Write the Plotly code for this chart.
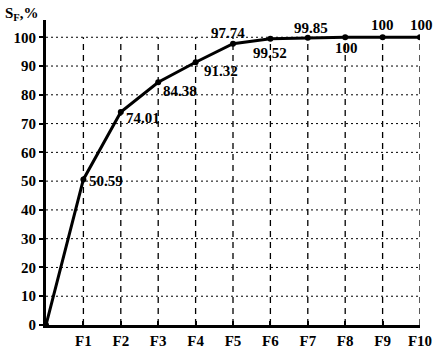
import plotly.graph_objects as go

categories = ["", "F1", "F2", "F3", "F4", "F5", "F6", "F7", "F8", "F9", "F10"]
values = [0, 50.59, 74.01, 84.38, 91.32, 97.74, 99.52, 99.85, 100, 100, 100]
value_labels = ["", "50.59", "74.01", "84.38", "91.32", "97.74", "99.52", "99.85", "100", "100", "100"]
y_ticks = [0, 10, 20, 30, 40, 50, 60, 70, 80, 90, 100]

# label placement style: (xanchor, yanchor, xshift, yshift)
label_pos = [
    None,
    ("left", "middle", 4, -2),
    ("left", "middle", 3, -6),
    ("left", "middle", 3, -9),
    ("left", "middle", 6, -9),
    ("center", "middle", -5, 11),
    ("center", "middle", 0, -14),
    ("center", "middle", 3, 10),
    ("center", "middle", 1, -11),
    ("center", "middle", 0, 12),
    ("center", "middle", 1, 12),
]

FONT = "Liberation Serif, Times New Roman, serif"
FS = 15
xs = list(range(len(categories)))

fig = go.Figure()
fig.add_trace(go.Scatter(
    x=xs, y=values, mode="lines+markers",
    line=dict(color="black", width=3),
    marker=dict(color="black", size=6),
    showlegend=False, hoverinfo="skip",
))

shapes = []
for i in xs[1:]:
    shapes.append(dict(type="line", xref="x", yref="y", x0=i, x1=i, y0=0, y1=100,
                       line=dict(color="black", width=1.3, dash="6px,5px"), layer="below"))
for v in y_ticks[1:]:
    shapes.append(dict(type="line", xref="x", yref="y", x0=0, x1=10, y0=v, y1=v,
                       line=dict(color="black", width=1, dash="2px,3px"), layer="below"))

annotations = []
for i in xs[1:]:
    xa, ya, dx, dy = label_pos[i]
    annotations.append(dict(x=i, y=values[i], text="<b>" + value_labels[i] + "</b>",
                            showarrow=False, xanchor=xa, yanchor=ya, xshift=dx, yshift=dy,
                            font=dict(family=FONT, size=FS, color="black")))
annotations.append(dict(xref="paper", yref="paper", x=-0.115, y=1.055, xanchor="left", yanchor="top",
                        text="<b>S<sub>F</sub>,%</b>", showarrow=False,
                        font=dict(family=FONT, size=FS, color="black")))

fig.update_layout(
    width=439, height=348,
    margin=dict(l=46, r=19, t=20, b=23, autoexpand=False),
    plot_bgcolor="white", paper_bgcolor="white",
    shapes=shapes, annotations=annotations,
    xaxis=dict(range=[0, 10], tickmode="array", tickvals=xs[1:], ticktext=["<b>%s</b>" % c for c in categories[1:]],
               showgrid=False, zeroline=False, showline=True, linecolor="black", linewidth=3,
               ticks="inside", ticklen=4, tickwidth=1.5, tickcolor="black", automargin=False,
               tickfont=dict(family=FONT, size=FS, color="black")),
    yaxis=dict(range=[0, 106], tickmode="array", tickvals=y_ticks, ticktext=["<b>%d</b>" % t for t in y_ticks],
               showgrid=False, zeroline=False, showline=True, linecolor="black", linewidth=3,
               ticks="outside", ticklen=4, tickwidth=2, tickcolor="black", automargin=False,
               tickfont=dict(family=FONT, size=FS, color="black")),
)

fig.write_html("out.html", config={"displayModeBar": False},
               post_script="document.body.style.margin='0';document.body.style.overflow='hidden';")
